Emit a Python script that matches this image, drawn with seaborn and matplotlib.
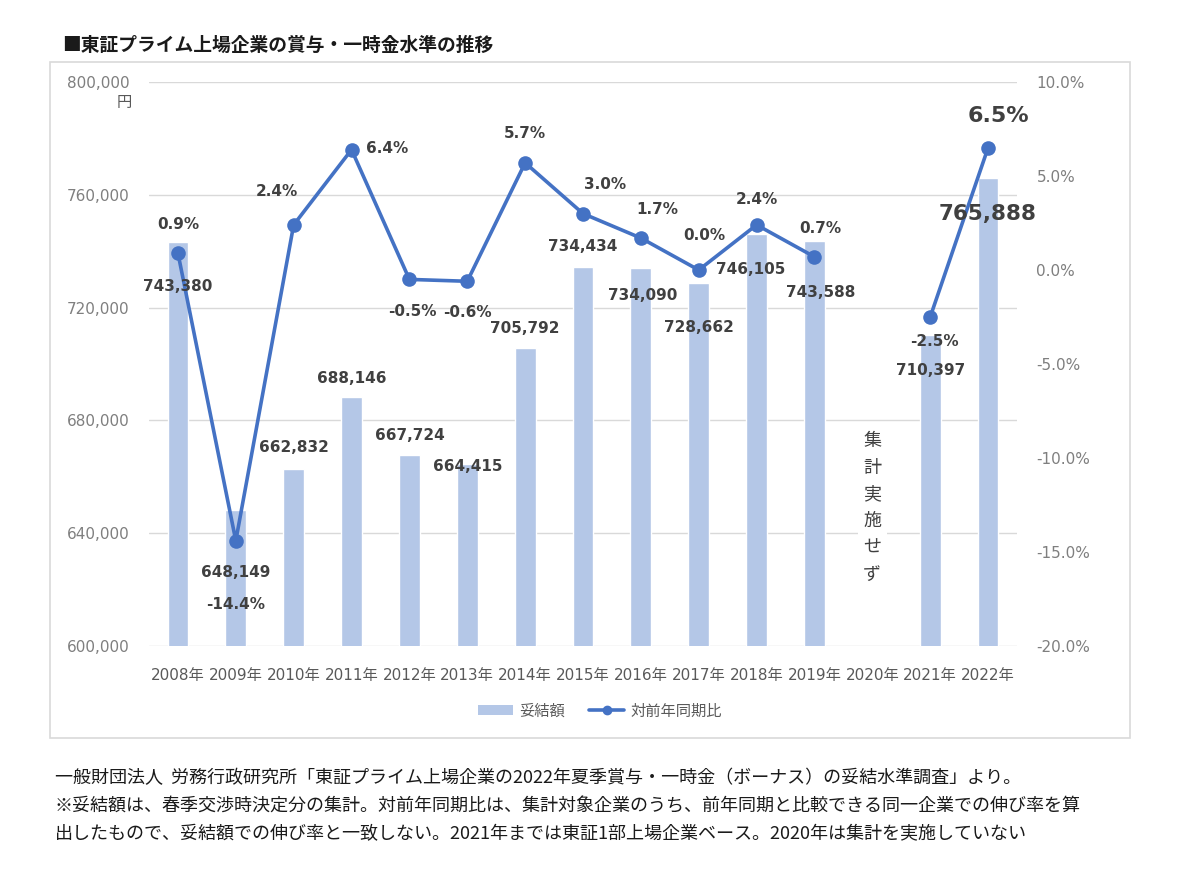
import numpy as np
import pandas as pd
import matplotlib
matplotlib.use("Agg")
import matplotlib.pyplot as plt
import seaborn as sns
from matplotlib.patches import Patch, Rectangle
from matplotlib.lines import Line2D
from matplotlib.ticker import FuncFormatter

years = ["2008年", "2009年", "2010年", "2011年", "2012年", "2013年", "2014年", "2015年",
         "2016年", "2017年", "2018年", "2019年", "2020年", "2021年", "2022年"]
bonus = [743380, 648149, 662832, 688146, 667724, 664415, 705792, 734434,
         734090, 728662, 746105, 743588, np.nan, 710397, 765888]
yoy = [0.9, -14.4, 2.4, 6.4, -0.5, -0.6, 5.7, 3.0, 1.7, 0.0, 2.4, 0.7, np.nan, -2.5, 6.5]

# label offsets in pixels (dx, dy)
bonus_off = [(0, -45), (0, -62), (0, 21), (0, 19), (0, 20), (0, -2), (0, 19), (0, 20),
             (2, -28), (0, -44), (-6, -36), (6, -51), (0, 0), (0, -36), (0, -36)]
yoy_off = [(0, 29), (0, -64), (-17, 33), (36, 1), (3, -32), (0, -31), (0, 29), (22, 29),
           (16, 29), (6, 35), (0, 25), (6, 28), (0, 0), (4, -24), (10, 32)]

BAR = "#B4C7E7"
LINE = "#4472C4"
TXT = "#404040"
TICK = "#7F7F7F"
JP = ["Noto Sans CJK JP", "DejaVu Sans"]

sns.set_style("white")
plt.rcParams["font.family"] = ["DejaVu Sans", "Noto Sans CJK JP"]

pos = np.arange(len(years))
df = pd.DataFrame({"pos": pos, "bonus": bonus, "yoy": yoy})
df["seg"] = df["yoy"].isna().cumsum()

fig = plt.figure(figsize=(12, 8.75), dpi=100)
ax = fig.add_axes([149 / 1200, 1 - 646 / 875, (1017 - 149) / 1200, (646 - 82) / 875])

sns.barplot(data=df.dropna(subset=["bonus"]), x="pos", y="bonus", native_scale=True,
            color=BAR, saturation=1, width=0.36, errorbar=None, ax=ax, zorder=2)
ax.set_xlim(-0.5, len(years) - 0.5)
ax.set_ylim(600000, 800000)
ax.set_yticks(np.arange(600000, 800001, 40000))
ax.yaxis.set_major_formatter(FuncFormatter(lambda v, p: f"{v:,.0f}"))
ax.set_xticks(pos)
ax.set_xticklabels(years)
ax.grid(axis="y", color="#D9D9D9", lw=1)
ax.set_axisbelow(True)
ax.tick_params(axis="y", length=0, pad=14, labelsize=11, labelcolor=TICK)
ax.tick_params(axis="x", length=0, pad=16, labelsize=11, labelcolor="#595959")
ax.set_xlabel("")
ax.set_ylabel("")
for s in ax.spines.values():
    s.set_visible(False)

ax2 = ax.twinx()
sns.lineplot(data=df.dropna(subset=["yoy"]), x="pos", y="yoy", units="seg", estimator=None,
             color=LINE, lw=2.6, marker="o", markersize=10.5, markeredgewidth=0,
             ax=ax2, legend=False, zorder=3)
ax2.set_ylim(-20, 10)
ax2.set_yticks(np.arange(-20, 10.1, 5))
ax2.yaxis.set_major_formatter(FuncFormatter(lambda v, p: f"{v:.1f}%"))
ax2.tick_params(axis="y", length=0, pad=14, labelsize=11, labelcolor=TICK)
ax2.set_ylabel("")
ax2.grid(False)
for s in ax2.spines.values():
    s.set_visible(False)

# data labels
for i in range(len(years)):
    big = i == len(years) - 1
    if not np.isnan(bonus[i]):
        ax2.annotate(f"{bonus[i]:,.0f}", xy=(pos[i], bonus[i]), xycoords=("data", ax.transData),
                     xytext=bonus_off[i], textcoords="offset pixels", ha="center", va="center",
                     fontsize=15.5 if big else 11, fontweight="bold", color=TXT, zorder=5)
    if not np.isnan(yoy[i]):
        ax2.annotate(f"{yoy[i]:.1f}%", xy=(pos[i], yoy[i]),
                     xytext=yoy_off[i], textcoords="offset pixels", ha="center", va="center",
                     fontsize=16 if big else 11, fontweight="bold", color=TXT, zorder=5)

ax.annotate("円", xy=(0, 1), xycoords="axes fraction", xytext=(-17, -21),
            textcoords="offset pixels", ha="right", va="center", fontsize=11,
            color="#595959", family=JP)

ax.text(years.index("2020年"), 649000, "\n".join("集計実施せず"), ha="center", va="center",
        fontsize=13, linespacing=1.62, color="#404040", family=JP, zorder=4,
        bbox=dict(facecolor="white", edgecolor="none", pad=4))

handles = [Patch(facecolor=BAR, edgecolor="none"),
           Line2D([], [], color=LINE, lw=2.6, marker="o", markersize=6)]
leg = fig.legend(handles, ["妥結額", "対前年同期比"], loc="center", bbox_to_anchor=(600 / 1200, 1 - 711 / 875),
                 ncol=2, frameon=False, prop={"family": JP, "size": 11}, handlelength=2.3,
                 handleheight=0.6, columnspacing=1.6, handletextpad=0.4)
for t in leg.get_texts():
    t.set_color("#595959")

fig.patches.append(Rectangle((50 / 1200, 1 - 738 / 875), 1080 / 1200, 676 / 875,
                             transform=fig.transFigure, fill=False, ec="#D9D9D9", lw=1.2))

fig.text(62 / 1200, 1 - 45 / 875, "■東証プライム上場企業の賞与・一時金水準の推移", ha="left", va="center",
         fontsize=13.5, fontweight="bold", color="#1A1A1A", family=JP)

notes = ["一般財団法人  労務行政研究所「東証プライム上場企業の2022年夏季賞与・一時金（ボーナス）の妥結水準調査」より。",
         "※妥結額は、春季交渉時決定分の集計。対前年同期比は、集計対象企業のうち、前年同期と比較できる同一企業での伸び率を算",
         "出したもので、妥結額での伸び率と一致しない。2021年までは東証1部上場企業ベース。2020年は集計を実施していない"]
for k, line in enumerate(notes):
    fig.text(55 / 1200, 1 - (778 + 28 * k) / 875, line, ha="left", va="center",
             fontsize=13, color="#1A1A1A", family=JP)

fig.savefig("out.png", dpi=100, facecolor="white")
